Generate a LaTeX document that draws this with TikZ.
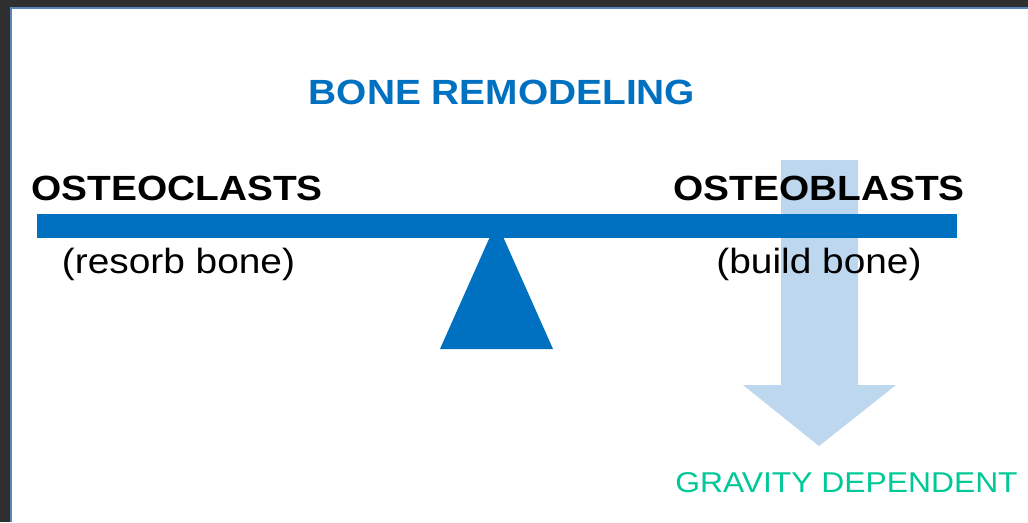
\documentclass[tikz,border=0pt]{standalone}
\usepackage{fontspec}
\setmainfont{Liberation Sans}[FakeStretch=1.11]
\definecolor{bgdark}{RGB}{47,47,47}
\definecolor{frameblue}{RGB}{88,134,186}
\definecolor{barblue}{RGB}{0,112,192}
\definecolor{lightblue}{RGB}{189,215,238}
\definecolor{teal}{RGB}{0,200,150}
\tikzset{
  bigtxt/.style={inner sep=0pt, anchor=base, font=\fontsize{26.25pt}{30pt}\selectfont},
  boldtxt/.style={bigtxt, font=\fontsize{26.25pt}{30pt}\selectfont\bfseries},
}
\begin{document}
\begin{tikzpicture}[x=0.75pt,y=-0.75pt]
\useasboundingbox (0,0) rectangle (1028,522);
% background and slide
\fill[bgdark] (0,0) rectangle (1028,522);
\fill[frameblue] (10,7) rectangle (1028,522);
\fill[white] (12,9) rectangle (1028,522);
% gravity arrow
\fill[lightblue] (781,160) -- (858,160) -- (858,385) -- (896,385) -- (819,446) -- (743,385) -- (781,385) -- cycle;
% fulcrum
\fill[barblue] (496.5,222) -- (553,349) -- (440,349) -- cycle;
% beam
\fill[barblue] (37,214) rectangle (957,238);
% texts
\node[boldtxt, text=barblue] (title) at (502,104) {BONE REMODELING};
\node[boldtxt] (oc) at (177,200) {OSTEOCLASTS};
\node[boldtxt] (ob) at (819,200) {OSTEOBLASTS};
\node[bigtxt] (resorb) at (178.5,273) {(resorb bone)};
\node[bigtxt] (build) at (819,273) {(build bone)};
\node[inner sep=0pt, anchor=base, text=teal, font=\fontsize{21.5pt}{25pt}\selectfont] (grav) at (846.5,492) {GRAVITY DEPENDENT};
\end{tikzpicture}
\end{document}
